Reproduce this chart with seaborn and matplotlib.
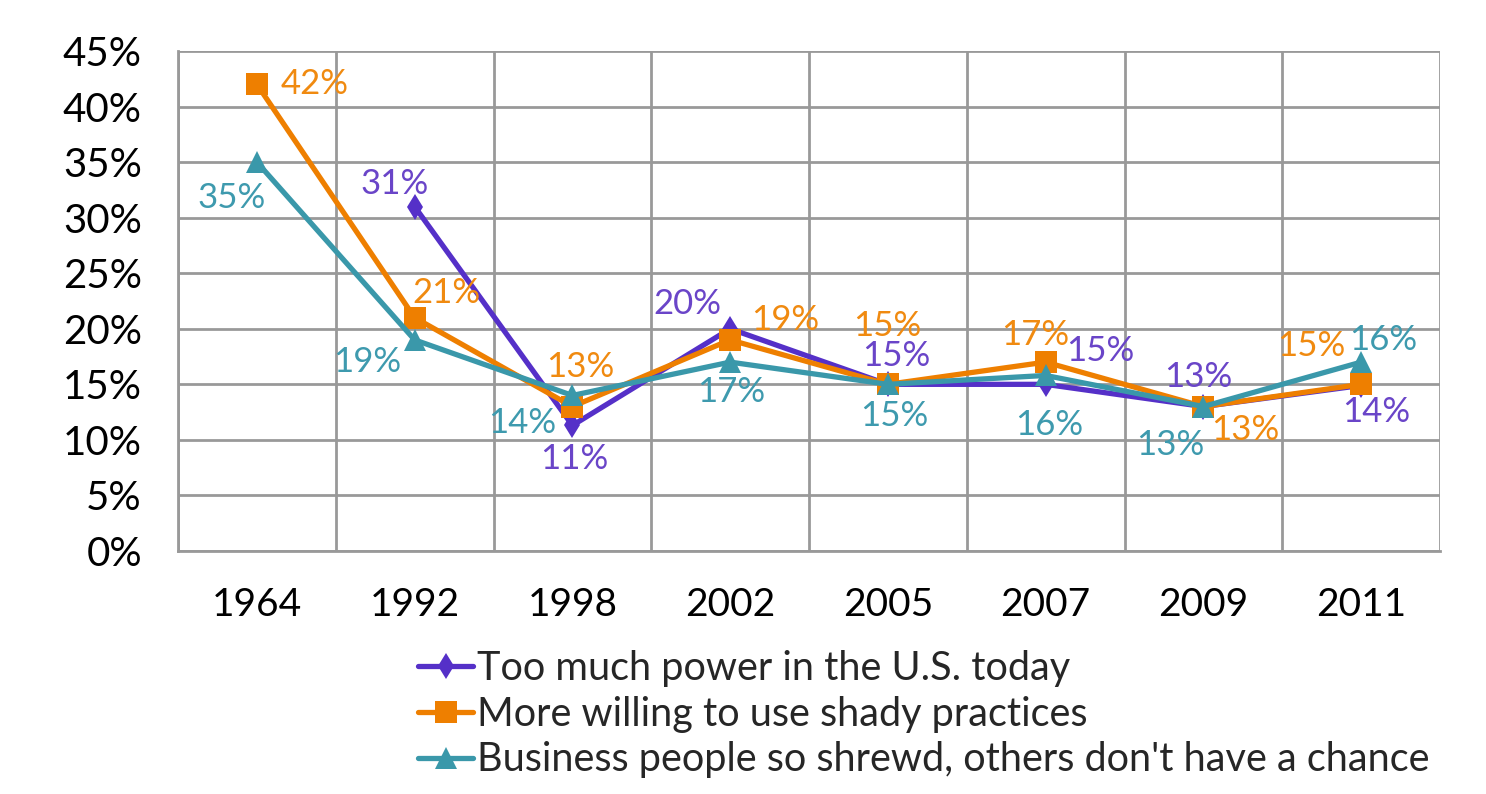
import numpy as np
import pandas as pd
import matplotlib
matplotlib.use("Agg")
import matplotlib.pyplot as plt
import seaborn as sns
from matplotlib.ticker import FixedLocator, PercentFormatter

years = ["1964", "1992", "1998", "2002", "2005", "2007", "2009", "2011"]
power = [np.nan, 31, 11.3, 20, 15, 15, 13, 14.9]
shady = [42, 21, 13, 19, 15, 17, 13, 15]
shrewd = [35, 19, 14, 17, 15, 15.8, 13, 17]
power_labels = [None, "31%", "11%", "20%", "15%", "15%", "13%", "14%"]
shady_labels = ["42%", "21%", "13%", "19%", "15%", "17%", "13%", "15%"]
shrewd_labels = ["35%", "19%", "14%", "17%", "15%", "16%", "13%", "16%"]
series_names = ["Too much power in the U.S. today",
                "More willing to use shady practices",
                "Business people so shrewd, others don't have a chance"]

sns.set_theme(style="white")
plt.rcParams['font.family'] = ['Lato', 'DejaVu Sans']

C_P, C_O, C_T = "#5530C8", "#EE7F00", "#3A98AA"
L_P, L_O, L_T = "#6A45C8", "#F08A10", "#3E9AAE"

fig = plt.figure(figsize=(14.86, 7.94), dpi=100)
ax = fig.add_axes([178/1486, 1-551/794, (1440-178)/1486, (551-51)/794])

x = np.arange(len(years))
df = pd.DataFrame({"x": x, "power": power, "shady": shady, "shrewd": shrewd})

sns.lineplot(data=df, x="x", y="power", ax=ax, color=C_P, lw=3.8, marker="d",
             markersize=13, markeredgewidth=0, label=series_names[0], zorder=3)
sns.lineplot(data=df, x="x", y="shady", ax=ax, color=C_O, lw=3.8, marker="s",
             markersize=16, markeredgewidth=0, label=series_names[1], zorder=4)
sns.lineplot(data=df, x="x", y="shrewd", ax=ax, color=C_T, lw=3.8, marker="^",
             markersize=16, markeredgewidth=0, label=series_names[2], zorder=5)

ax.set_xlim(-0.5, 7.5)
ax.set_ylim(0, 45)
ax.xaxis.set_major_locator(FixedLocator(x))
ax.xaxis.set_minor_locator(FixedLocator(np.arange(-0.5, 8, 1)))
ax.set_xticklabels(years)
ax.set_yticks(np.arange(0, 46, 5))
ax.yaxis.set_major_formatter(PercentFormatter(decimals=0))
ax.tick_params(axis="x", which="major", length=0, labelsize=28, pad=26, colors="black")
ax.tick_params(axis="x", which="minor", length=8, width=2, color="#999999", direction="out")
ax.tick_params(axis="y", which="major", length=0, labelsize=29, pad=26, colors="black")
ax.grid(True, axis="y", which="major", color="#999999", lw=2)
ax.grid(True, axis="x", which="minor", color="#999999", lw=2)
ax.grid(False, axis="x", which="major")
for s in ["top", "right"]:
    ax.spines[s].set_visible(False)
for s in ["left", "bottom"]:
    ax.spines[s].set_color("#999999")
    ax.spines[s].set_linewidth(2)
ax.set_xlabel("")
ax.set_ylabel("")

off_p = [None, (-20, 23), (2, -34), (-43, 25), (8, 28), (55, 33), (-5, 30), (15, -27)]
off_o = [(58, 0), (32, 25), (8, 40), (55, 20), (-1, 58), (-10, 27), (42, -23), (-50, 38)]
off_t = [(-25, -36), (-47, -22), (-50, -28), (1, -30), (6, -32), (4, -50), (-33, -38), (22, 22)]

for vals, labs, offs, col in [(power, power_labels, off_p, L_P),
                              (shady, shady_labels, off_o, L_O),
                              (shrewd, shrewd_labels, off_t, L_T)]:
    for i, (v, lab, o) in enumerate(zip(vals, labs, offs)):
        if lab is None or o is None:
            continue
        ax.annotate(lab, (x[i], v), xytext=o, textcoords="offset pixels",
                    ha="center", va="center", fontsize=25, color=col, zorder=6)

ax.get_legend().remove()
h, l = ax.get_legend_handles_labels()
fig.legend(h, l, loc="upper left", bbox_to_anchor=(418/1486, 1-650/794),
           frameon=False, fontsize=28.5, handlelength=1.4, handletextpad=0.1,
           labelspacing=0.22, borderaxespad=0, borderpad=0)

fig.savefig("out.png", dpi=100, facecolor="white")
